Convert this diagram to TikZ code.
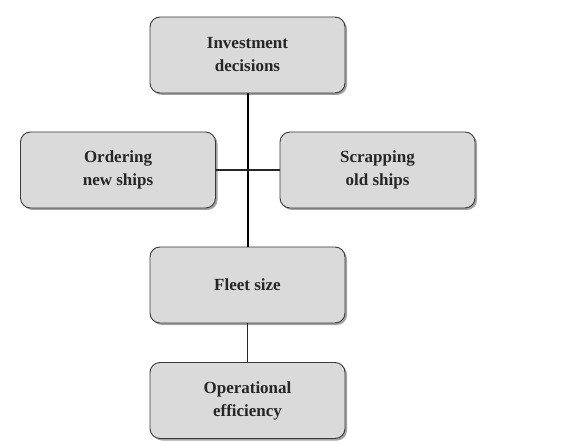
\documentclass[tikz,border=0pt]{standalone}
\usepackage{fontspec}
\setmainfont{Liberation Serif}
\usetikzlibrary{shadows}
\definecolor{boxfill}{HTML}{DADADA}
\definecolor{boxline}{HTML}{3A3A3A}
\begin{document}
\begin{tikzpicture}[x=1pt,y=-1pt,
  box/.style={draw=boxline, line width=0.9pt, fill=boxfill, rounded corners=10pt,
    minimum width=195pt, minimum height=76pt, align=center, inner sep=0pt,
    font=\fontsize{17}{23}\selectfont\bfseries, text=black!85,
    drop shadow={shadow xshift=2pt, shadow yshift=-2pt, fill=black!45, opacity=0.8}},
  link/.style={draw=black!85, line width=1.3pt},
  thick link/.style={draw=black, line width=2pt}]
\useasboundingbox (0,0) rectangle (567,446);
\node[box] (inv) at (247.5,55) {Investment\\decisions};
\node[box] (ord) at (118,170) {Ordering\\new ships};
\node[box] (scr) at (377.5,170) {Scrapping\\old ships};
\node[box] (fleet) at (247.5,285) {Fleet size};
\node[box] (op) at (247.5,400.5) {Operational\\efficiency};
\coordinate (mid) at (247.5,170);
\draw[thick link] (inv.south) -- (fleet.north);
\draw[link] (ord.east) -- (scr.west);
\draw[link] (fleet.south) -- (op.north);
\end{tikzpicture}
\end{document}
